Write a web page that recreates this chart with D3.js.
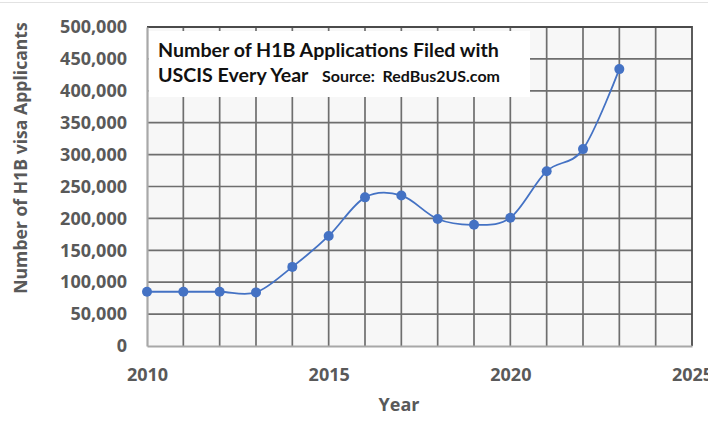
<!DOCTYPE html>
<html><head><meta charset="utf-8">
<script src="https://cdn.jsdelivr.net/npm/d3@7"></script>
<style>
html,body{margin:0;padding:0;background:#fff;overflow:hidden}
</style></head>
<body><svg id="c" width="708" height="421"></svg>
<script>
const years = [2010,2011,2012,2013,2014,2015,2016,2017,2018,2019,2020,2021,2022,2023];
const applications = [85000,85000,85000,84000,124000,172500,233000,236000,199000,190000,201000,274000,308600,434000];
const yTicks = [0,50000,100000,150000,200000,250000,300000,350000,400000,450000,500000];
const xTicks = [2010,2015,2020,2025];
const titleLine1 = "Number of H1B Applications Filed with";
const titleLine2 = "USCIS Every Year";
const sourceText = "Source:  RedBus2US.com";
const xTitle = "Year";
const yTitle = "Number of H1B visa Applicants";

const svg = d3.select("#c");
const L=147, R=692, T=27, B=346;
const x = d3.scaleLinear().domain([2010,2025]).range([L,R]);
const y = d3.scaleLinear().domain([0,500000]).range([B,T]);
const axisFont = "'Open Sans', sans-serif";
const titleFont = "Lato, 'Open Sans', sans-serif";

svg.append("line").attr("x1",0).attr("x2",708).attr("y1",2.5).attr("y2",2.5).attr("stroke","#e2e2e2").attr("stroke-width",1);

svg.append("rect").attr("x",L).attr("y",T).attr("width",R-L).attr("height",B-T).attr("fill","#f7f7f7");

const g = svg.append("g");
d3.range(2011,2025).forEach(v=>{
  g.append("line").attr("x1",x(v)).attr("x2",x(v)).attr("y1",T).attr("y2",B).attr("stroke","#6e6e6e").attr("stroke-width",1.7);
});
yTicks.slice(1,-1).forEach(v=>{
  g.append("line").attr("x1",L).attr("x2",R).attr("y1",y(v)).attr("y2",y(v)).attr("stroke","#6e6e6e").attr("stroke-width",1.7);
});
svg.append("path").attr("d",`M${L},${T}H${R}V${B}`).attr("fill","none").attr("stroke","#4a4a4a").attr("stroke-width",1.8);

// title box
svg.append("rect").attr("x",L+1.5).attr("y",31).attr("width",530-L-1.5).attr("height",66).attr("fill","#ffffff");
function fitText(sel, target){
  const w = sel.node().getComputedTextLength();
  const fs = parseFloat(sel.style("font-size"));
  sel.style("font-size", (fs*target/w).toFixed(2)+"px");
  return fs*target/w;
}
const t1 = svg.append("text").attr("x",158).attr("y",57).style("font-family",titleFont).style("font-weight",700).style("font-size","20px").attr("fill","#111").text(titleLine1);
const fs1 = fitText(t1, 341);
svg.append("text").attr("x",158).attr("y",82).style("font-family",titleFont).style("font-weight",700).style("font-size",fs1+"px").attr("fill","#111").text(titleLine2);
const t3 = svg.append("text").attr("x",322).attr("y",82).style("font-family",titleFont).style("font-weight",700).style("font-size","16px").attr("fill","#111").attr("xml:space","preserve").text(sourceText);
fitText(t3, 178);

// axes
const yAxis = d3.axisLeft(y).tickValues(yTicks).tickSize(0).tickPadding(20).tickFormat(d3.format(","));
const ya = svg.append("g").attr("transform",`translate(${L},0)`).call(yAxis);
ya.select(".domain").attr("stroke","#a8a8a8").attr("stroke-width",2.2);
ya.selectAll("text").style("font-size","18px").attr("fill","#595959").style("font-family",axisFont).style("font-weight",700);

const xAxis = d3.axisBottom(x).tickValues(xTicks).tickSize(0).tickPadding(22).tickFormat(d3.format("d"));
const xa = svg.append("g").attr("transform",`translate(0,${B})`).call(xAxis);
xa.select(".domain").attr("stroke","#a8a8a8").attr("stroke-width",2.2);
xa.selectAll("text").style("font-size","18px").attr("fill","#595959").style("font-family",axisFont).style("font-weight",700);

svg.append("text").attr("x",399).attr("y",411).attr("text-anchor","middle").style("font-family",axisFont).style("font-weight",700).style("font-size","18px").attr("fill","#595959").text(xTitle);
svg.append("text").attr("transform","translate(27,158) rotate(-90)").attr("text-anchor","middle").style("font-family",axisFont).style("font-weight",700).style("font-size","17.6px").attr("fill","#595959").text(yTitle);

const data = years.map((yr,i)=>({yr, v:applications[i]}));
svg.append("path").datum(data)
  .attr("d", d3.line().x(d=>x(d.yr)).y(d=>y(d.v)).curve(d3.curveCardinal.tension(0)))
  .attr("fill","none").attr("stroke","#4472C4").attr("stroke-width",1.8);
svg.selectAll("circle.pt").data(data).join("circle").attr("class","pt")
  .attr("cx",d=>x(d.yr)).attr("cy",d=>y(d.v)).attr("r",5).attr("fill","#4472C4");
</script></body></html>
